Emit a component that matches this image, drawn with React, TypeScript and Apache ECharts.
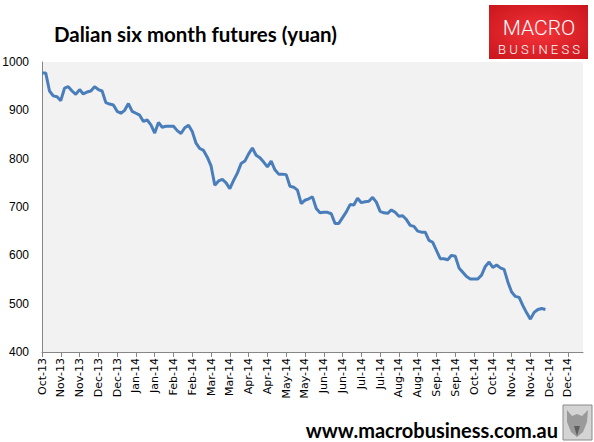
import React, { useEffect, useRef } from "react";
import * as echarts from "echarts";

// Tick labels shown on the x axis (one every 5 slots)
const tickLabels = [
  "Oct-13", "Nov-13", "Nov-13", "Dec-13", "Dec-13", "Jan-14", "Jan-14",
  "Feb-14", "Feb-14", "Mar-14", "Mar-14", "Apr-14", "Apr-14", "May-14",
  "May-14", "Jun-14", "Jun-14", "Jul-14", "Jul-14", "Aug-14", "Aug-14",
  "Sep-14", "Sep-14", "Oct-14", "Oct-14", "Nov-14", "Nov-14", "Dec-14", "Dec-14",
];
const slotsPerTick = 5;
const axisSlots = 145;

// Dalian six month futures (yuan)
const futures = [
  977, 977, 940, 930, 928, 920, 946, 949, 940, 933,
  943, 934, 938, 940, 949, 943, 940, 916, 913, 911,
  898, 894, 900, 914, 898, 894, 890, 877, 880, 870,
  853, 875, 865, 867, 867, 867, 858, 852, 864, 869,
  856, 832, 821, 817, 803, 785, 745, 754, 757, 750,
  738, 755, 770, 790, 795, 810, 822, 807, 802, 793,
  783, 795, 777, 768, 768, 767, 743, 741, 735, 707,
  714, 717, 721, 697, 688, 689, 689, 686, 666, 666,
  678, 690, 705, 704, 718, 709, 711, 712, 720, 710,
  691, 688, 687, 694, 689, 681, 682, 674, 662, 660,
  650, 648, 648, 631, 627, 610, 593, 593, 591, 600,
  598, 574, 565, 556, 551, 551, 551, 559, 577, 586,
  575, 580, 574, 571, 545, 524, 515, 513, 496, 481,
  468, 482, 488, 490, 488,
];

const yMin = 400;
const yMax = 1000;
const yStep = 100;

const categories = Array.from(
  { length: axisSlots },
  (_, i) => tickLabels[Math.min(Math.floor(i / slotsPerTick), tickLabels.length - 1)]
);

export default function App() {
  const ref = useRef<HTMLDivElement>(null);

  useEffect(() => {
    if (!ref.current) return;
    const chart = echarts.init(ref.current, null, { renderer: "svg" });
    const showEvery = (index: number) => index % slotsPerTick === 0;
    chart.setOption({
      animation: false,
      backgroundColor: "#ffffff",
      title: {
        text: "Dalian six month futures (yuan)",
        left: 54,
        top: 23,
        padding: 0,
        textStyle: {
          fontFamily: "Lato",
          fontWeight: "bold",
          fontSize: 20.5,
          color: "#000000",
        },
      },
      grid: {
        left: 42,
        right: 11,
        top: 62,
        bottom: 90,
        show: true,
        backgroundColor: "#f2f2f2",
        borderWidth: 0,
        containLabel: false,
        outerBoundsMode: "none",
      },
      xAxis: {
        type: "category",
        data: categories,
        boundaryGap: false,
        axisLine: { show: true, lineStyle: { color: "#868686", width: 1 } },
        axisTick: {
          show: true,
          interval: showEvery,
          length: 5,
          lineStyle: { color: "#868686" },
        },
        axisLabel: {
          interval: showEvery,
          rotate: 90,
          margin: 6,
          fontFamily: "DejaVu Sans",
          fontSize: 11,
          color: "#000000",
        },
        splitLine: { show: false },
      },
      yAxis: {
        type: "value",
        min: yMin,
        max: yMax,
        interval: yStep,
        axisLine: { show: true, lineStyle: { color: "#868686", width: 1 } },
        axisTick: { show: false },
        splitLine: { show: false },
        axisLabel: {
          margin: 13,
          fontFamily: "Liberation Sans",
          fontSize: 12,
          color: "#000000",
          formatter: (v: number) => String(v),
        },
      },
      series: [
        {
          type: "line",
          data: futures,
          symbol: "none",
          smooth: false,
          lineStyle: { color: "#4a7ebb", width: 3 },
        },
      ],
      graphic: [
        {
          type: "rect",
          shape: { x: 489, y: 5, width: 99, height: 54 },
          style: {
            fill: new echarts.graphic.RadialGradient(0.5, 0.5, 0.7, [
              { offset: 0, color: "#f5333a" },
              { offset: 1, color: "#c9161c" },
            ]),
          },
        },
        {
          type: "text",
          x: 539,
          y: 28,
          style: {
            text: "MACRO",
            fill: "#ffffff",
            fontFamily: "Roboto",
            fontWeight: 300,
            fontSize: 21,
            align: "center",
            verticalAlign: "middle",
          },
        },
        {
          type: "text",
          x: 539,
          y: 49,
          style: {
            text: "B U S I N E S S",
            fill: "#ffffff",
            fontFamily: "Roboto",
            fontWeight: 300,
            fontSize: 13,
            align: "center",
            verticalAlign: "middle",
          },
        },
        {
          type: "text",
          x: 558,
          y: 430,
          style: {
            text: "www.macrobusiness.com.au",
            fill: "#000000",
            fontFamily: "Lato",
            fontWeight: "bold",
            fontSize: 20,
            align: "right",
            verticalAlign: "middle",
          },
        },
        {
          type: "rect",
          shape: { x: 563, y: 405, width: 29, height: 35 },
          style: { fill: "#d4d4d4", stroke: "#8a8a8a", lineWidth: 1 },
        },
        {
          type: "polygon",
          shape: {
            points: [
              [567, 410], [572, 416], [577, 414], [582, 416], [588, 410],
              [587, 422], [583, 432], [577, 437], [571, 432], [567, 422],
            ],
          },
          style: { fill: "#9a9a9a" },
        },
        {
          type: "polygon",
          shape: {
            points: [[574, 426], [577, 436], [580, 426]],
          },
          style: { fill: "#5e5e5e" },
        },
      ],
    });
    return () => chart.dispose();
  }, []);

  return (
    <div
      ref={ref}
      style={{ position: "fixed", left: 0, top: 0, width: 594, height: 442 }}
    />
  );
}
